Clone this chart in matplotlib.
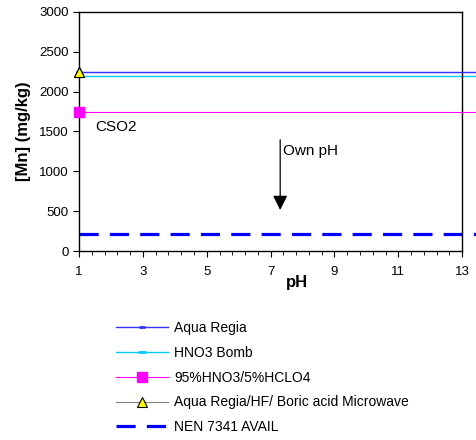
import matplotlib.pyplot as plt

plt.rcParams['font.family'] = ['Liberation Sans', 'DejaVu Sans']

# valores (pH 1 hasta fuera del eje)
ph = [1, 13.5]
aqua_regia = [2250, 2250]
hno3_bomb = [2190, 2190]
hno3_hclo4 = [1740, 1740]
microwave = [2250, 2250]
nen_avail = [210, 210]

x_ticks = [1, 3, 5, 7, 9, 11, 13]
x_minor = [1 + 0.4 * i for i in range(31)]

arrow_x = 7.3
arrow_top = 1430
arrow_tip = 480

fig = plt.figure(figsize=(4.76, 4.4), dpi=100)
ax = fig.add_axes([0.166, 0.4295, 0.805, 0.5435])

ax.plot(ph, microwave, color='#808080', lw=0.8, marker='^', markevery=[0],
        ms=7, mfc='yellow', mec='black', mew=0.8, clip_on=False,
        label='Aqua Regia/HF/ Boric acid Microwave', zorder=2)
ax.plot(ph, aqua_regia, color='#3333FF', lw=1.0, marker='_', markevery=[0],
        ms=5, mew=2, clip_on=False, label='Aqua Regia', zorder=3)
ax.plot(ph, hno3_bomb, color='#00CCFF', lw=1.0, marker='_', markevery=[0],
        ms=6, mew=2, clip_on=False, label='HNO3 Bomb', zorder=2)
ax.plot(ph, hno3_hclo4, color='#FF00FF', lw=0.8, marker='s', markevery=[0],
        ms=7, clip_on=False, label='95%HNO3/5%HCLO4', zorder=3)
ax.plot(ph, nen_avail, color='#0000FF', lw=2.3, ls=(0, (6, 3.5)),
        clip_on=False, label='NEN 7341 AVAIL', zorder=2)
# triangulo encima de la linea azul
ax.plot(ph[:1], microwave[:1], ls='none', marker='^', ms=7, mfc='yellow',
        mec='black', mew=0.8, clip_on=False, zorder=4)

ax.annotate('', xy=(arrow_x, arrow_tip), xytext=(arrow_x, arrow_top),
            arrowprops=dict(arrowstyle='-|>', color='black', lw=0.9,
                            mutation_scale=22))
ax.text(arrow_x + 0.1, 1260, 'Own pH', fontsize=11, va='center')
ax.text(1.5, 1550, 'CSO2', fontsize=11, va='center')

ax.set_xlim(1, 13)
ax.set_ylim(0, 3000)
ax.set_xticks(x_ticks)
ax.set_xticks(x_minor, minor=True)
ax.set_yticks(range(0, 3001, 500))
ax.tick_params(axis='both', labelsize=9.5, direction='out', length=4, width=0.8)
ax.tick_params(axis='x', which='major', pad=7)
ax.tick_params(axis='x', which='minor', length=3)
ax.set_xlabel('pH', fontsize=12, fontweight='bold', va='center')
ax.xaxis.set_label_coords(0.569, -0.13)
ax.set_ylabel('[Mn] (mg/kg)', fontsize=12, fontweight='bold', labelpad=6)
for s in ax.spines.values():
    s.set_linewidth(1.0)

h, l = ax.get_legend_handles_labels()
order = [1, 2, 3, 0, 4]
fig.legend([h[i] for i in order], [l[i] for i in order],
           loc='upper left', bbox_to_anchor=(0.218, 0.299), frameon=False,
           fontsize=10, handlelength=3.75, labelspacing=0.78, handletextpad=0.4)

fig.savefig('out.png', dpi=100)
